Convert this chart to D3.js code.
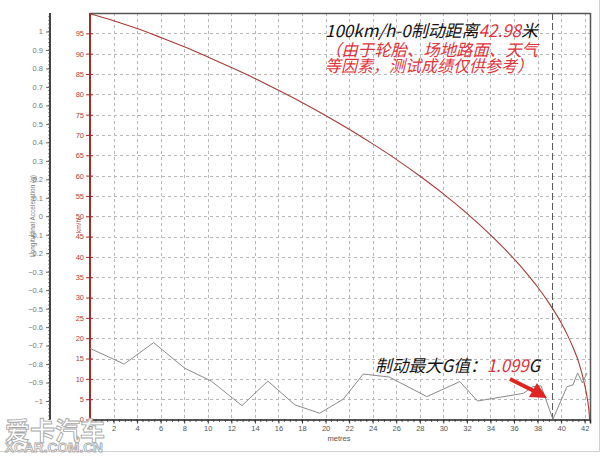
<!DOCTYPE html>
<html><head><meta charset="utf-8">
<script src="https://cdn.jsdelivr.net/npm/d3@7"></script>
<style>body{margin:0;background:#fff}svg{display:block}</style>
</head><body>
<svg id="c" width="608" height="456"></svg>
<script>
// ---- data ----
const speedDist = [0,2,4,6,8,10,12,14,16,18,20,22,24,26,28,30,32,34,36,37,38,39,40,40.5,41,41.5,42,42.2,42.35,42.42];
const speedKmh  = [99.8,98.1,96.2,94.0,91.7,89.2,86.6,83.9,81.0,78.0,74.8,71.4,67.8,64.0,59.9,55.5,50.7,45.4,39.5,36.2,32.6,28.5,23.8,21.0,17.8,14.0,8.5,5.5,2.5,0];
const accDist = [0,2.9,5.4,8.05,10.3,12.9,15.1,17.4,19.5,21.5,23.2,25.4,28.6,31.4,32.9,36.0,36.8,37.6,38.3,39.3,40.5,41.0,41.4,41.8,42.2];
const accG    = [-0.715,-0.80,-0.684,-0.823,-0.892,-1.025,-0.892,-1.021,-1.066,-0.99,-0.854,-0.87,-0.976,-0.895,-1.0,-0.967,-0.958,-0.922,-0.918,-1.099,-0.922,-0.913,-0.848,-0.902,-0.848];
const xTicks = [0,2,4,6,8,10,12,14,16,18,20,22,24,26,28,30,32,34,36,38,40,42];
const kmhTicks = [0,5,10,15,20,25,30,35,40,45,50,55,60,65,70,75,80,85,90,95];
const gTicks = [1,0.9,0.8,0.7,0.6,0.5,0.4,0.3,0.2,0.1,0,-0.1,-0.2,-0.3,-0.4,-0.5,-0.6,-0.7,-0.8,-0.9,-1];
const cursorDist = 39.27;
const title1 = ["100km/h-0制动距离", "42.98", "米"];
const title2 = "（由于轮胎、场地路面、天气";
const title3 = "等因素，测试成绩仅供参考）";
const maxG = ["制动最大G值：", "1.099", "G"];

// ---- layout ----
const L = 90, R = 590, T = 13, B = 419.5;
const svg = d3.select("#c");
const x = d3.scaleLinear().domain([0, 42.45]).range([L, R]);
const yK = d3.scaleLinear().domain([0, 100]).range([B, T]);
const yG = d3.scaleLinear().domain([-1.1, 1.1]).range([B, T]);
const axisFont = "Liberation Sans, Arial, sans-serif";
const cjk = "'Noto Sans CJK SC', sans-serif";

// frame of the picture
svg.append("line").attr("x1",599.5).attr("x2",599.5).attr("y1",0).attr("y2",451.5).attr("stroke","#cfcfcf");
svg.append("line").attr("x1",0).attr("x2",599.5).attr("y1",451.5).attr("y2",451.5).attr("stroke","#cfcfcf");

// grid
const grid = svg.append("g").attr("stroke","#b8b8b8").attr("stroke-dasharray","3,3").attr("stroke-width",1);
grid.selectAll("line.v").data(xTicks.filter(d=>d>0)).join("line")
  .attr("x1",d=>Math.round(x(d))+0.5).attr("x2",d=>Math.round(x(d))+0.5).attr("y1",T).attr("y2",B);
grid.selectAll("line.h").data(kmhTicks.filter(d=>d>0)).join("line")
  .attr("x1",L).attr("x2",R).attr("y1",d=>Math.round(yK(d))+0.5).attr("y2",d=>Math.round(yK(d))+0.5);

// plot border top/right
svg.append("line").attr("x1",L).attr("x2",R).attr("y1",T+0.5).attr("y2",T+0.5).attr("stroke","#555").attr("stroke-width",1.5);
svg.append("line").attr("x1",R+0.5).attr("x2",R+0.5).attr("y1",T).attr("y2",B).attr("stroke","#555").attr("stroke-width",1.5);

// cursor line
svg.append("line").attr("x1",x(cursorDist)).attr("x2",x(cursorDist)).attr("y1",T).attr("y2",B)
  .attr("stroke","#555").attr("stroke-dasharray","7,3").attr("stroke-width",1);

// x axis
const xAxis = d3.axisBottom(x).tickValues(xTicks).tickSize(4).tickFormat(d3.format("d"));
const gx = svg.append("g").attr("transform",`translate(0,${B})`).call(xAxis);
gx.select(".domain").attr("stroke","#222").attr("stroke-width",1.5);
gx.selectAll(".tick line").attr("stroke","#333");
gx.selectAll("text").attr("fill","#555").attr("font-family",axisFont).attr("font-size",7.5).attr("dy","0.95em").attr("y",4);
const minor = d3.range(0, 42.45, 0.5);
svg.append("g").selectAll("line").data(minor).join("line")
  .attr("x1",d=>x(d)).attr("x2",d=>x(d)).attr("y1",B).attr("y2",B+2.5).attr("stroke","#333").attr("stroke-width",0.8);
svg.append("text").attr("x",339).attr("y",441).attr("text-anchor","middle").attr("font-family",axisFont)
  .attr("font-size",7.5).attr("fill","#555").text("metres");

// g axis
const gAxis = d3.axisLeft(yG).tickValues(gTicks).tickSize(4).tickFormat(d=>d3.format("")(+d.toFixed(1)));
const ga = svg.append("g").attr("transform","translate(50,0)").call(gAxis);
ga.select(".domain").attr("stroke","#444").attr("stroke-width",2).attr("d",`M0,${T}V${B}`);
ga.selectAll(".tick line").attr("stroke","#666");
ga.selectAll("text").attr("fill","#777").attr("font-family",axisFont).attr("font-size",7.5);
svg.append("g").selectAll("line").data(d3.range(-1.1,1.1,0.02)).join("line")
  .attr("x1",48).attr("x2",51).attr("y1",d=>yG(d)).attr("y2",d=>yG(d)).attr("stroke","#444").attr("stroke-width",0.6);
svg.append("text").attr("transform","translate(35,216) rotate(-90)").attr("text-anchor","middle")
  .attr("font-family",axisFont).attr("font-size",6.5).attr("fill","#777").text("Longitudinal Acceleration (g)");

// km/h axis
const kAxis = d3.axisLeft(yK).tickValues(kmhTicks).tickSize(4);
const ka = svg.append("g").attr("transform",`translate(${L},0)`).call(kAxis);
ka.select(".domain").attr("stroke","#a52a2a").attr("stroke-width",2).attr("d",`M0,${T}V${B}`);
ka.selectAll(".tick line").attr("stroke","#a52a2a").attr("x2",-4).attr("x1",3);
ka.selectAll("text").attr("fill","#b0403a").attr("font-family",axisFont).attr("font-size",7.5).attr("x",-6);
svg.append("text").attr("transform","translate(81,226) rotate(-90)").attr("text-anchor","middle")
  .attr("font-family",axisFont).attr("font-size",6.5).attr("fill","#b0403a").text("km/h");

// series
const speedLine = d3.line().x((d,i)=>x(speedDist[i])).y(d=>yK(d)).curve(d3.curveMonotoneX);
svg.append("path").datum(speedKmh).attr("d",speedLine).attr("fill","none").attr("stroke","#a83a35").attr("stroke-width",1.1);
const accLine = d3.line().x((d,i)=>x(accDist[i])).y(d=>yG(d));
svg.append("path").datum(accG).attr("d",accLine).attr("fill","none").attr("stroke","#8a8a8a").attr("stroke-width",1);

// annotations
function mixed(parts, xx, yy, size){
  const t = svg.append("text").attr("x",xx).attr("y",yy).attr("font-family",cjk).attr("font-size",size)
    .attr("font-style","italic");
  parts.forEach((p,i)=>t.append("tspan").attr("fill", i===1 ? "#e3323c" : "#111").text(p));
  return t;
}
mixed(title1, 325, 37, 17).attr("textLength",213).attr("lengthAdjust","spacingAndGlyphs");
svg.append("text").attr("x",325).attr("y",56).attr("font-family",cjk).attr("font-size",16.5).attr("font-style","italic")
  .attr("fill","#e3323c").attr("textLength",213).attr("lengthAdjust","spacingAndGlyphs").text(title2);
svg.append("text").attr("x",325).attr("y",72).attr("font-family",cjk).attr("font-size",16.5).attr("font-style","italic")
  .attr("fill","#e3323c").attr("textLength",208).attr("lengthAdjust","spacingAndGlyphs").text(title3);
mixed(maxG, 375, 372, 17).attr("textLength",165).attr("lengthAdjust","spacingAndGlyphs");

// red arrow
svg.append("line").attr("x1",510).attr("y1",379).attr("x2",536).attr("y2",392).attr("stroke","#e02424").attr("stroke-width",4);
svg.append("path").attr("d","M547,398 L529,397 L537,383 Z").attr("fill","#e02424");

// watermark
svg.append("text").attr("x",5).attr("y",440).attr("font-family",cjk).attr("font-size",25).attr("font-weight","bold")
  .attr("fill","#fff").attr("fill-opacity",0.85).attr("stroke","#a8a8a8").attr("stroke-width",0.9)
  .attr("textLength",100).attr("lengthAdjust","spacingAndGlyphs").text("爱卡汽车");
svg.append("text").attr("x",5).attr("y",452).attr("font-family",axisFont).attr("font-size",12.5).attr("font-weight","bold")
  .attr("fill","#fff").attr("stroke","#a8a8a8").attr("stroke-width",0.8)
  .attr("textLength",98).attr("lengthAdjust","spacingAndGlyphs").text("XCAR.COM.CN");
</script>
</body></html>
